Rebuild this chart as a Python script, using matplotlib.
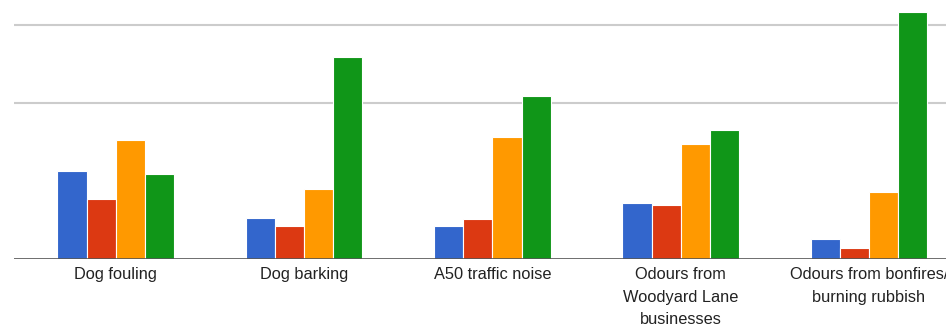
import numpy as np
import matplotlib.pyplot as plt

plt.rcParams['font.family'] = ['Liberation Sans', 'DejaVu Sans']

categories = ['Dog fouling', 'Dog barking', 'A50 traffic noise',
              'Odours from\nWoodyard Lane\nbusinesses',
              'Odours from bonfires/\nburning rubbish']
blue = [11.3, 5.3, 4.2, 7.2, 2.6]
red = [7.7, 4.2, 5.1, 6.9, 1.4]
orange = [15.2, 9.0, 15.7, 14.7, 8.6]
green = [10.9, 25.9, 20.9, 16.6, 31.7]

series = [blue, red, orange, green]
colors = ['#3366cc', '#dc3912', '#ff9900', '#109618']

fig = plt.figure(figsize=(9.46, 3.26), dpi=100)
ax = fig.add_axes([14 / 946, 67 / 326, 932 / 946, 259 / 326])

x = np.arange(len(categories))
w = 0.155
for i, (vals, c) in enumerate(zip(series, colors)):
    ax.bar(x + (i - 1.5) * w, vals, w, color=c, edgecolor='white',
           linewidth=0.8, zorder=3)

for g in [20, 30]:
    ax.axhline(g, color='#cccccc', linewidth=1.5, zorder=1)
ax.axhline(0, color='#555555', linewidth=1.2, zorder=4)

ax.set_xlim(-0.5406, 4.409)
ax.set_ylim(0, 33.2)
ax.set_yticks([])
ax.set_xticks(x)
ax.set_xticklabels(categories, fontsize=11.8, color='#222222', linespacing=1.6)
ax.tick_params(axis='x', length=0, pad=6)
for s in ax.spines.values():
    s.set_visible(False)

fig.savefig('out.png', dpi=100)
